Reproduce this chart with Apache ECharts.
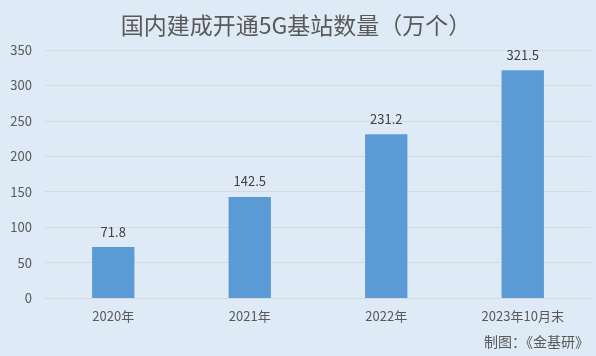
<!DOCTYPE html>
<html><head><meta charset="utf-8">
<script src="https://cdn.jsdelivr.net/npm/echarts@6/dist/echarts.min.js"></script>
<style>html,body{margin:0;padding:0;background:#deeaf6}#c{width:596px;height:356px}</style>
</head><body><div id="c"></div>
<script>
var categories = ['2020年', '2021年', '2022年', '2023年10月末'];
var values = [71.8, 142.5, 231.2, 321.5];
var yTicks = [0, 50, 100, 150, 200, 250, 300, 350];
var titleText = '国内建成开通5G基站数量（万个）';
var sourceText = '制图：《金基研》';

var font = '"Noto Sans CJK SC", "Noto Sans", sans-serif';
var chart = echarts.init(document.getElementById('c'));
chart.setOption({
  backgroundColor: '#deeaf6',
  animation: false,
  title: {
    text: titleText, left: 291, top: 9, textAlign: 'center',
    textStyle: { fontFamily: font, fontSize: 23, fontWeight: 'normal', color: '#595959' }
  },
  graphic: [{
    type: 'text', right: 7, top: 335,
    style: { text: sourceText, fontFamily: font, fontSize: 14, fill: '#595959' }
  }],
  grid: { left: 45, right: 5, top: 50, bottom: 58 },
  xAxis: {
    type: 'category', data: categories,
    axisLine: { lineStyle: { color: '#d9d9d9' } },
    axisTick: { show: false },
    axisLabel: { fontFamily: font, fontSize: 13, color: '#595959', margin: 12 }
  },
  yAxis: {
    type: 'value', min: yTicks[0], max: yTicks[yTicks.length - 1], interval: 50,
    axisLine: { show: false }, axisTick: { show: false },
    splitLine: { lineStyle: { color: '#d9d9d9' } },
    axisLabel: { fontFamily: font, fontSize: 13, color: '#595959', margin: 13 }
  },
  series: [{
    type: 'bar', data: values, barWidth: '31%',
    itemStyle: { color: '#5b9bd5' },
    label: { show: true, position: 'top', distance: 9, fontFamily: font, fontSize: 13, color: '#404040' }
  }]
});
</script></body></html>
